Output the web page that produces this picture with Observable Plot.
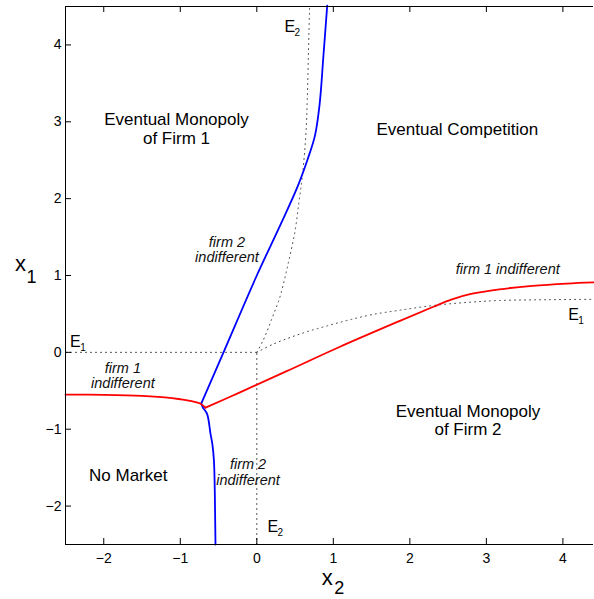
<!DOCTYPE html>
<html><head><meta charset="utf-8">
<script src="https://cdn.jsdelivr.net/npm/d3@7"></script>
<script src="https://cdn.jsdelivr.net/npm/@observablehq/plot@0.6"></script>
<style>body{margin:0;background:#fff} #chart svg{display:block}</style>
</head><body><div id="chart"></div>
<script>
// ticks
const xTicks = [-2, -1, 0, 1, 2, 3, 4];
const yTicks = [-2, -1, 0, 1, 2, 3, 4];

// firm 1 indifferent (red), left branch and right branch
const redLeftX2 = [-2.5, -2.0, -1.5, -1.2, -1.0, -0.85, -0.74, -0.67];
const redLeftX1 = [-0.55, -0.553, -0.565, -0.585, -0.61, -0.635, -0.665, -0.72];
const redRightX2 = [-0.67, -0.22, 0.39, 1.08, 1.87, 2.3, 2.55, 2.8, 3.17, 3.6, 4.05, 4.4];
const redRightX1 = [-0.72, -0.52, -0.245, 0.07, 0.41, 0.59, 0.69, 0.76, 0.82, 0.865, 0.895, 0.91];

// firm 2 indifferent (blue), lower branch and upper branch
const blueLowerX2 = [-0.54, -0.545, -0.55, -0.56, -0.58, -0.605, -0.65, -0.705, -0.725];
const blueLowerX1 = [-2.5, -2.1, -1.76, -1.41, -1.2, -1.06, -0.80, -0.717, -0.665];
const blueUpperX2 = [-0.725, -0.435, 0.0, 0.29, 0.53, 0.66, 0.76, 0.82, 0.87, 0.92];
const blueUpperX1 = [-0.665, 0.0, 1.0, 1.62, 2.15, 2.50, 2.82, 3.22, 3.85, 4.51];

// E1 and E2 (dotted): straight part and curved part
const e1LineX2 = [-2.5, 0];
const e1LineX1 = [0, 0];
const e1CurveX2 = [0, 0.22, 0.44, 0.66, 0.92, 1.2, 1.5, 1.88, 2.31, 2.75, 3.18, 3.8, 4.4];
const e1CurveX1 = [0, 0.11, 0.195, 0.27, 0.345, 0.42, 0.49, 0.55, 0.61, 0.65, 0.675, 0.685, 0.69];
const e2LineX2 = [0, 0];
const e2LineX1 = [-2.5, 0];
const e2CurveX2 = [0, 0.08, 0.14, 0.19, 0.24, 0.29, 0.35, 0.42, 0.50, 0.55, 0.59, 0.62, 0.645, 0.66, 0.675, 0.69];
const e2CurveX1 = [0, 0.15, 0.29, 0.42, 0.55, 0.68, 0.90, 1.20, 1.58, 1.95, 2.25, 2.55, 2.9, 3.3, 3.9, 4.5];

// annotations
const regionText = ["Eventual Monopoly\nof Firm 1", "Eventual Competition", "Eventual Monopoly\nof Firm 2", "No Market"];
const regionX2 = [-1.05, 2.62, 2.76, -1.68];
const regionX1 = [2.91, 2.90, -0.88, -1.60];

const curveText = ["firm 2\nindifferent", "firm 1\nindifferent", "firm 2\nindifferent", "firm 1 indifferent"];
const curveX2 = [-0.39, -1.75, -0.115, 3.28];
const curveX1 = [1.34, -0.30, -1.55, 1.08];

const eBase = ["E", "E", "E", "E"];
const eSub = ["1", "2", "2", "1"];
const eX2 = [-2.37, 0.43, 0.21, 4.14];
const eX1 = [0.14, 4.23, -2.27, 0.49];

const xDomain = [-2.5, 4.4];
const yDomain = [-2.5, 4.5];

const rows = (xs, ys, seg) => xs.map((x, i) => ({x2: x, x1: ys[i], seg}));
const red = [...rows(redLeftX2, redLeftX1, "a"), ...rows(redRightX2, redRightX1, "b")];
const blue = [...rows(blueLowerX2, blueLowerX1, "a"), ...rows(blueUpperX2, blueUpperX1, "b")];
const eStraight = [...rows(e1LineX2, e1LineX1, "e1"), ...rows(e2LineX2, e2LineX1, "e2")];
const eCurved = [...rows(e1CurveX2, e1CurveX1, "e1"), ...rows(e2CurveX2, e2CurveX1, "e2")];
const regions = regionText.map((t, i) => ({t, x2: regionX2[i], x1: regionX1[i]}));
const curveLabels = curveText.map((t, i) => ({t, x2: curveX2[i], x1: curveX1[i]}));
const eLabels = eBase.map((t, i) => ({t, s: eSub[i], x2: eX2[i], x1: eX1[i]}));

const font = "'Liberation Sans', Arial, Helvetica, sans-serif";
const dotted = {stroke: "#444", strokeWidth: 1, strokeDasharray: "1,4"};

const W = 594, H = 599, mL = 65, mR = 1, mT = 6, mB = 55, tickLen = 6;
const innerW = W - mL - mR, innerH = H - mT - mB;
// tick length converted to data units
const tx = tickLen * (xDomain[1] - xDomain[0]) / innerW;
const ty = tickLen * (yDomain[1] - yDomain[0]) / innerH;

const chart = Plot.plot({
  width: W, height: H,
  marginLeft: mL, marginRight: mR, marginTop: mT, marginBottom: mB,
  x: {domain: xDomain},
  y: {domain: yDomain},
  style: {fontFamily: font, fontSize: "14px", color: "black", background: "white"},
  marks: [
    Plot.line(eStraight, {x: "x2", y: "x1", z: "seg", ...dotted, curve: "linear"}),
    Plot.line(eCurved, {x: "x2", y: "x1", z: "seg", ...dotted, curve: "catmull-rom"}),
    Plot.line(blue, {x: "x2", y: "x1", z: "seg", stroke: "#0000ff", strokeWidth: 1.8, curve: "catmull-rom"}),
    Plot.line(red, {x: "x2", y: "x1", z: "seg", stroke: "#ff0000", strokeWidth: 1.8, curve: "catmull-rom"}),
    Plot.text(regions, {x: "x2", y: "x1", text: "t", fontSize: 17, lineHeight: 1.1, fill: "black"}),
    Plot.text(curveLabels, {x: "x2", y: "x1", text: "t", fontSize: 14.5, fontStyle: "italic", lineHeight: 1.1, fill: "#111"}),
    Plot.text(eLabels, {x: "x2", y: "x1", text: "t", fontSize: 16, fill: "black"}),
    Plot.text(eLabels, {x: "x2", y: "x1", text: "s", fontSize: 10, dx: 7.5, dy: 6, fill: "black"}),
    Plot.axisX({anchor: "bottom", ticks: xTicks, tickSize: 0, tickPadding: 9, tickFormat: "d", fontSize: 14, label: null}),
    Plot.axisY({anchor: "left", ticks: yTicks, tickSize: 0, tickPadding: 4, tickFormat: "d", fontSize: 14, label: null}),
    // inward tick marks (bottom, top, left)
    Plot.ruleX(xTicks, {x: d => d, y1: yDomain[0], y2: yDomain[0] + ty, stroke: "black", strokeWidth: 1}),
    Plot.ruleX(xTicks, {x: d => d, y1: yDomain[1] - ty, y2: yDomain[1], stroke: "black", strokeWidth: 1}),
    Plot.ruleY(yTicks, {y: d => d, x1: xDomain[0], x2: xDomain[0] + tx, stroke: "black", strokeWidth: 1}),
    // box
    Plot.ruleX([xDomain[0]], {stroke: "black"}),
    Plot.ruleY([yDomain[0]], {stroke: "black"}),
    Plot.ruleY([yDomain[1]], {stroke: "black"}),
    Plot.text(["x"], {x: -2.5, y: 1, text: d => d, fontSize: 22, dx: -45, dy: -12, fill: "black"}),
    Plot.text(["1"], {x: -2.5, y: 1, text: d => d, fontSize: 18, dx: -34, dy: 2, fill: "black"}),
    Plot.text(["x"], {x: 1, y: -2.5, text: d => d, fontSize: 22, dx: -6, dy: 33, fill: "black"}),
    Plot.text(["2"], {x: 1, y: -2.5, text: d => d, fontSize: 18, dx: 6, dy: 44, fill: "black"})
  ]
});
document.getElementById("chart").appendChild(chart);
</script>
</body></html>
